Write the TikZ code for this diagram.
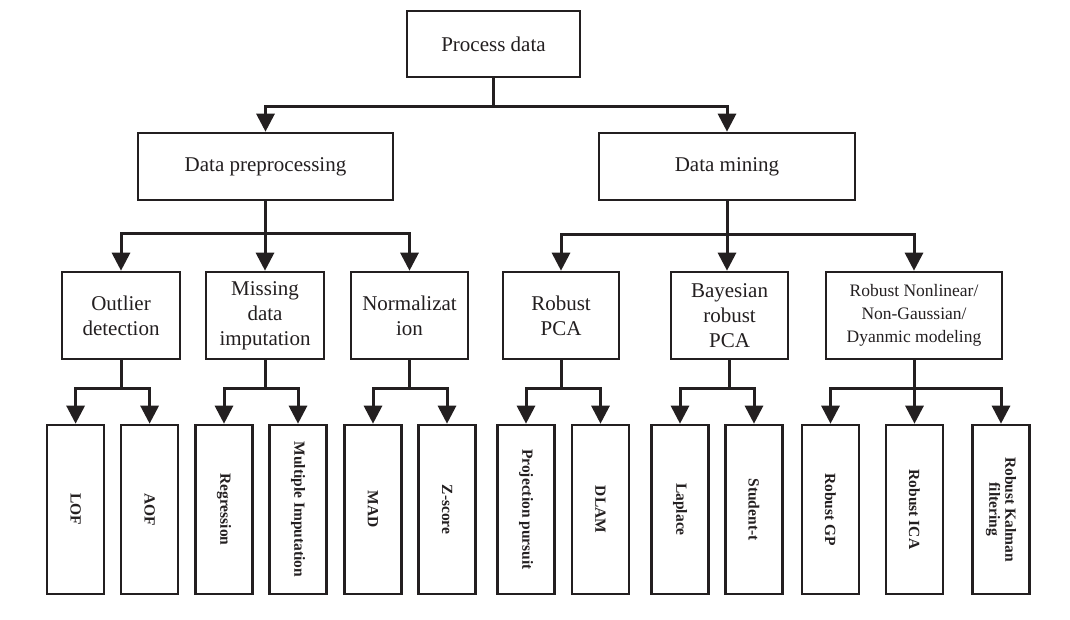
\documentclass[tikz,border=0pt]{standalone}
\usepackage{fontspec}
\setmainfont{Liberation Serif}
\usetikzlibrary{arrows.meta}
\definecolor{ink}{HTML}{231F20}
\begin{document}
\begin{tikzpicture}[x=1pt,y=-1pt,
  box/.style={draw=ink, line width=2.6pt, fill=white, inner sep=0pt, align=center,
    font=\fontsize{21}{25}\selectfont, text=ink},
  leaf/.style={box, minimum width=57pt, minimum height=169pt,
    font=\fontsize{15.5}{18}\selectfont\bfseries},
  link/.style={draw=ink, line width=3pt, -{Triangle[width=18pt,length=18pt]}},
]
\useasboundingbox (0,0) rectangle (1070,620);
% level 1
\node[box, minimum width=173pt, minimum height=66pt] (pd) at (493.5,44) {Process data};
% level 2
\node[box, minimum width=255pt, minimum height=67pt] (dp) at (265.5,166.5) {Data preprocessing};
\node[box, minimum width=256pt, minimum height=67pt] (dm) at (727,166.5) {Data mining};
% level 3
\node[box, minimum width=118pt, minimum height=87pt] (od) at (121,315.5) {Outlier\\detection};
\node[box, minimum width=118pt, minimum height=87pt] (mdi) at (265,315.5) {Missing\\data\\imputation};
\node[box, minimum width=117pt, minimum height=87pt] (nor) at (409.5,315.5) {Normalizat\\ion};
\node[box, minimum width=116pt, minimum height=87pt] (rpca) at (561,315.5) {Robust\\PCA};
\node[box, minimum width=117pt, minimum height=87pt] (brpca) at (729.5,315.5) {Bayesian\\robust\\PCA};
\node[box, minimum width=176pt, minimum height=87pt, font=\fontsize{17.5}{23}\selectfont] (rnl) at (914,315.5) {Robust Nonlinear/\\Non-Gaussian/\\Dyanmic modeling};
% level 4
\node[leaf] (lof) at (75.6,509.5) {\rotatebox{-90}{LOF}};
\node[leaf] (aof) at (149.6,509.5) {\rotatebox{-90}{AOF}};
\node[leaf] (reg) at (224,509.5) {\rotatebox{-90}{Regression}};
\node[leaf] (mi) at (298,509.5) {\rotatebox{-90}{Multiple Imputation}};
\node[leaf] (mad) at (373,509.5) {\rotatebox{-90}{MAD}};
\node[leaf] (zs) at (447,509.5) {\rotatebox{-90}{Z-score}};
\node[leaf] (pp) at (526,509.5) {\rotatebox{-90}{Projection pursuit}};
\node[leaf] (dlam) at (600.5,509.5) {\rotatebox{-90}{DLAM}};
\node[leaf] (lap) at (680,509.5) {\rotatebox{-90}{Laplace}};
\node[leaf] (st) at (754,509.5) {\rotatebox{-90}{Student-t}};
\node[leaf] (rgp) at (830.5,509.5) {\rotatebox{-90}{Robust GP}};
\node[leaf] (rica) at (914.5,509.5) {\rotatebox{-90}{Robust ICA}};
\node[leaf] (rkf) at (1001,509.5) {\rotatebox{-90}{\begin{tabular}{@{}c@{}}Robust Kalman\\[-2pt]filtering\end{tabular}}};
% connectors
\draw[link] (pd.south) -- ++(0,28) -| (dp.north);
\draw[link] (pd.south) -- ++(0,28) -| (dm.north);
\draw[link] (dp.south) -- ++(0,32) -| (od.north);
\draw[link] (dp.south) -- ++(0,32) -| (mdi.north);
\draw[link] (dp.south) -- ++(0,32) -| (nor.north);
\draw[link] (dm.south) -- ++(0,33) -| (rpca.north);
\draw[link] (dm.south) -- (dm.south |- brpca.north);
\draw[link] (dm.south) -- ++(0,33) -| (rnl.north);
\draw[link] (od.south) -- ++(0,28) -| (lof.north);
\draw[link] (od.south) -- ++(0,28) -| (aof.north);
\draw[link] (mdi.south) -- ++(0,28) -| (reg.north);
\draw[link] (mdi.south) -- ++(0,28) -| (mi.north);
\draw[link] (nor.south) -- ++(0,28) -| (mad.north);
\draw[link] (nor.south) -- ++(0,28) -| (zs.north);
\draw[link] (rpca.south) -- ++(0,28) -| (pp.north);
\draw[link] (rpca.south) -- ++(0,28) -| (dlam.north);
\draw[link] (brpca.south) -- ++(0,28) -| (lap.north);
\draw[link] (brpca.south) -- ++(0,28) -| (st.north);
\draw[link] (rnl.south) -- ++(0,28) -| (rgp.north);
\draw[link] (rnl.south) -- ++(0,28) -| (rica.north);
\draw[link] (rnl.south) -- ++(0,28) -| (rkf.north);
\end{tikzpicture}
\end{document}
